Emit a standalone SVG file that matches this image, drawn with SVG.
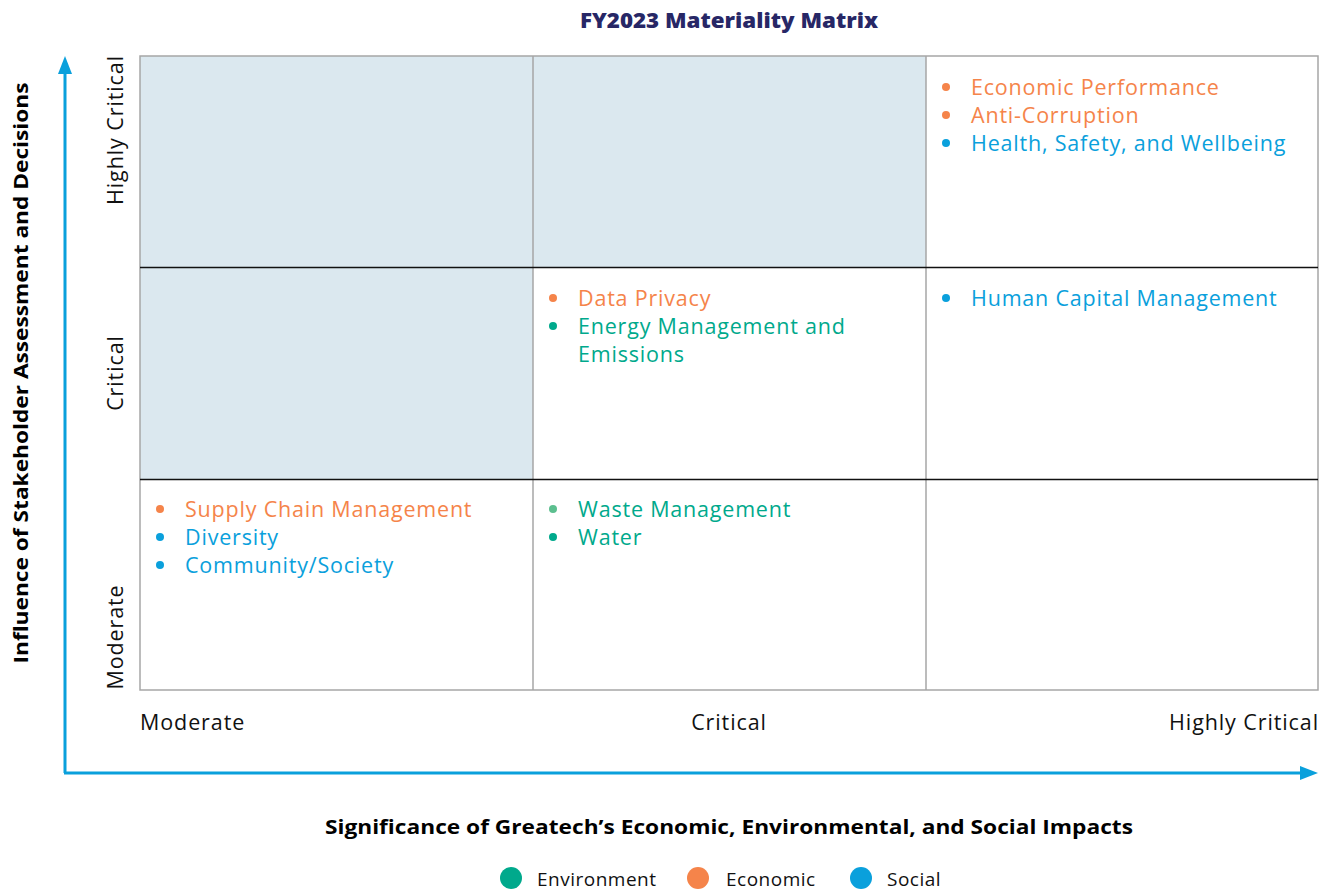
<svg xmlns="http://www.w3.org/2000/svg" width="1331" height="890" viewBox="0 0 1331 890">
  <style>
    .title { font-family: "Open Sans", "Liberation Sans", sans-serif; font-weight: 800; font-size: 21px; fill: #272766; }
    .axis-title { font-family: "Open Sans", "Liberation Sans", sans-serif; font-weight: bold; font-size: 20px; fill: #000; }
    .tick { font-family: "Open Sans", "Liberation Sans", sans-serif; font-size: 21.5px; letter-spacing: 0.9px; fill: #111; }
    .item { font-family: "Open Sans", "Liberation Sans", sans-serif; font-size: 21.5px; letter-spacing: 0.8px; }
    .legend { font-family: "Open Sans", "Liberation Sans", sans-serif; font-size: 19px; letter-spacing: 0.5px; fill: #111; }
    .eco { fill: #f5844a; }
    .soc { fill: #0aa0dc; }
    .env { fill: #00a98c; }
    .shade { fill: #dbe8ef; }
    .vline { stroke: #a6a6a6; stroke-width: 1.5; }
    .hline { stroke: #111; stroke-width: 1.5; }
    .axis { stroke: #0aa0dc; stroke-width: 3; fill: none; }
  </style>
  <rect width="1331" height="890" fill="#fff"/>

  <text class="title" x="729" y="28" text-anchor="middle" textLength="298" lengthAdjust="spacingAndGlyphs">FY2023 Materiality Matrix</text>

  <!-- Matrix grid -->
  <g id="grid">
    <rect class="shade" x="140" y="56" width="786" height="211"/>
    <rect class="shade" x="140" y="267" width="393" height="212"/>
    <line class="vline" x1="533" y1="56" x2="533" y2="690"/>
    <line class="vline" x1="926" y1="56" x2="926" y2="690"/>
    <rect x="140" y="56" width="1178" height="634" fill="none" stroke="#a6a6a6" stroke-width="1.5"/>
    <line class="hline" x1="140" y1="267.5" x2="1318" y2="267.5"/>
    <line class="hline" x1="140" y1="479.5" x2="1318" y2="479.5"/>
  </g>

  <!-- Axes -->
  <g id="connectors">
    <path class="axis" d="M65,773 L65,70"/>
    <path d="M58,74 L65,56 L72,74 Z" fill="#0aa0dc"/>
    <path class="axis" d="M64,773 L1302,773"/>
    <path d="M1300,766 L1318,773 L1300,780 Z" fill="#0aa0dc"/>
  </g>

  <!-- Row labels -->
  <g id="row-labels">
    <text class="tick" transform="translate(123,130) rotate(-90)" text-anchor="middle">Highly Critical</text>
    <text class="tick" transform="translate(123,373) rotate(-90)" text-anchor="middle">Critical</text>
    <text class="tick" transform="translate(123,637) rotate(-90)" text-anchor="middle">Moderate</text>
  </g>

  <!-- Column labels -->
  <g id="col-labels">
    <text class="tick" x="140" y="730">Moderate</text>
    <text class="tick" x="729" y="730" text-anchor="middle">Critical</text>
    <text class="tick" x="1319" y="730" text-anchor="end">Highly Critical</text>
  </g>

  <!-- Axis titles -->
  <text class="axis-title" transform="translate(28,373) rotate(-90)" text-anchor="middle" textLength="581" lengthAdjust="spacingAndGlyphs">Influence of Stakeholder Assessment and Decisions</text>
  <text class="axis-title" x="729" y="834" text-anchor="middle" textLength="808" lengthAdjust="spacingAndGlyphs">Significance of Greatech’s Economic, Environmental, and Social Impacts</text>

  <!-- Top-right cell -->
  <g id="cell-high-high">
    <circle class="eco" cx="946" cy="87" r="4"/>
    <text class="item eco" x="971" y="95">Economic Performance</text>
    <circle class="eco" cx="946" cy="115" r="4"/>
    <text class="item eco" x="971" y="123">Anti-Corruption</text>
    <circle class="soc" cx="946" cy="143" r="4"/>
    <text class="item soc" x="971" y="151">Health, Safety, and Wellbeing</text>
  </g>

  <!-- Middle-center cell -->
  <g id="cell-crit-crit">
    <circle class="eco" cx="553" cy="298" r="4"/>
    <text class="item eco" x="578" y="306">Data Privacy</text>
    <circle class="env" cx="553" cy="326" r="4"/>
    <text class="item env" x="578" y="334">Energy Management and</text>
    <text class="item env" x="578" y="362">Emissions</text>
  </g>

  <!-- Middle-right cell -->
  <g id="cell-high-crit">
    <circle class="soc" cx="946" cy="298" r="4"/>
    <text class="item soc" x="971" y="306">Human Capital Management</text>
  </g>

  <!-- Bottom-left cell -->
  <g id="cell-mod-mod">
    <circle class="eco" cx="160" cy="509" r="4"/>
    <text class="item eco" x="185" y="517">Supply Chain Management</text>
    <circle class="soc" cx="160" cy="537" r="4"/>
    <text class="item soc" x="185" y="545">Diversity</text>
    <circle class="soc" cx="160" cy="565" r="4"/>
    <text class="item soc" x="185" y="573">Community/Society</text>
  </g>

  <!-- Bottom-center cell -->
  <g id="cell-crit-mod">
    <circle cx="553" cy="509" r="4" fill="#5cbf8f"/>
    <text class="item env" x="578" y="517">Waste Management</text>
    <circle class="env" cx="553" cy="537" r="4"/>
    <text class="item env" x="578" y="545">Water</text>
  </g>

  <!-- Legend -->
  <g id="legend">
    <circle class="env" cx="511" cy="878" r="11"/>
    <text class="legend" x="537" y="886">Environment</text>
    <circle class="eco" cx="698" cy="878" r="11"/>
    <text class="legend" x="726" y="886">Economic</text>
    <circle class="soc" cx="861" cy="878" r="11"/>
    <text class="legend" x="887" y="886">Social</text>
  </g>
</svg>
